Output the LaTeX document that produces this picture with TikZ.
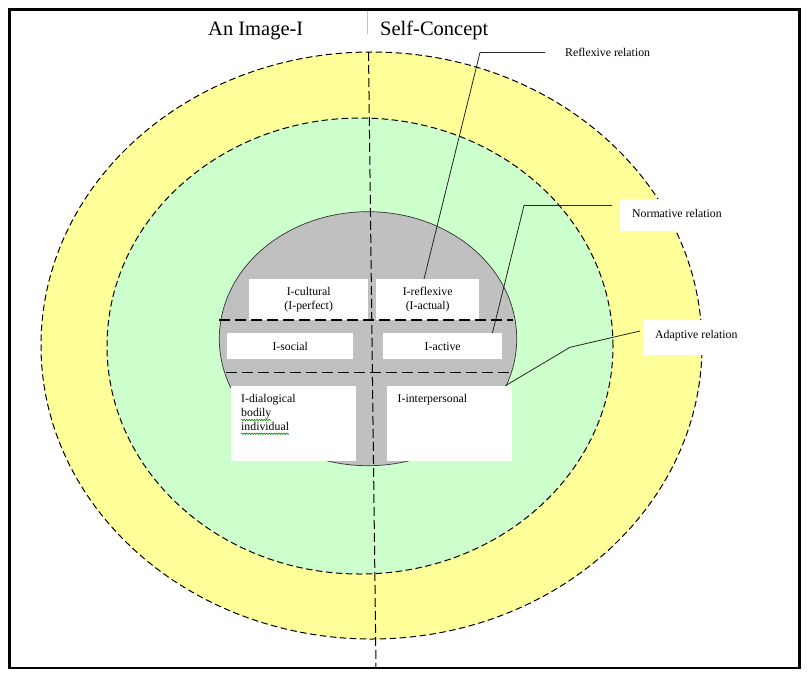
\documentclass[tikz,border=0pt]{standalone}
\usepackage{fontspec}
\setmainfont{Liberation Serif}
\usetikzlibrary{decorations.pathmorphing}
\definecolor{ylw}{HTML}{FFFF99}
\definecolor{grn}{HTML}{CCFFCC}
\definecolor{gry}{HTML}{C0C0C0}
\begin{document}
\begin{tikzpicture}[x=1pt,y=-1pt,
 ring/.style={draw=black, line width=1pt, dash pattern=on 6.5pt off 3.5pt},
 wbox/.style={fill=white, draw=none, inner sep=0pt, anchor=north west, align=center,
   font=\fontsize{11.8}{13.3}\selectfont},
 lbl/.style={font=\fontsize{11.8}{13.7}\selectfont, inner sep=0pt},
 ttl/.style={font=\fontsize{20.5}{24}\selectfont, inner sep=0pt, anchor=base west},
 rel/.style={draw=black!85, line width=0.8pt},
 sepline/.style={line width=1.5pt, dash pattern=on 11pt off 5pt},
 vline/.style={line width=1pt, dash pattern=on 9pt off 4pt},
 squig/.style={draw=green!55!black, line width=0.6pt, decorate,
   decoration={snake, segment length=2.5pt, amplitude=0.7pt}},
]
\useasboundingbox (0,0) rectangle (810,677);
\fill[white] (0,0) rectangle (810,677);
\draw[line width=2.2pt] (9.5,9.5) rectangle (799.5,668);
\draw[gray!45, line width=0.8pt] (367,11) -- (367,34);

% titles
\node[ttl] (t1) at (208,36) {An Image-I};
\node[ttl] (t2) at (380,36) {Self-Concept};

% rings
\draw[ring, fill=ylw] (371.5,345.5) ellipse [x radius=330.5pt, y radius=293.5pt];
\draw[ring, fill=grn] (360,346) ellipse [x radius=253pt, y radius=228pt];
\draw[fill=gry, draw=black!80, line width=0.7pt] (368,338.7) ellipse [x radius=148.7pt, y radius=127pt];

% vertical divider
\coordinate (vt) at (368.5,52);
\coordinate (vb) at (376,668);
\draw[vline] (vt) -- (vb);

% boxes
\node[wbox, minimum width=119pt, minimum height=41pt] (cult) at (249,279) {I-cultural\\(I-perfect)};
\node[wbox, minimum width=103pt, minimum height=41pt] (refl) at (376,279) {I-reflexive\\(I-actual)};
\node[wbox, minimum width=126pt, minimum height=26pt] (soc) at (227,333) {I-social};
\node[wbox, minimum width=119pt, minimum height=26pt] (act) at (383,333) {I-active};
\node[wbox, minimum width=125pt, minimum height=75pt] (dial) at (231,385.7) {};
\node[wbox, minimum width=125pt, minimum height=75pt] (inter) at (387,385.7) {};
\node[lbl, anchor=north west, align=left] (dialt) at (241,394.5) {I-dialogical\\bodily\\individual};
\node[lbl, anchor=north west] (intert) at (397.5,394.5) {I-interpersonal};
\draw[squig] (241,420) -- (271,420);
\draw[squig] (241,433.7) -- (289,433.7);

% horizontal dividers
\coordinate (h1a) at (219,320);
\coordinate (h1b) at (513,320);
\coordinate (h2a) at (226,372.7);
\coordinate (h2b) at (512,372.7);
\draw[sepline] (h1a) -- (h1b);
\draw[sepline] (h2a) -- (h2b);

% relation labels
\node[lbl, anchor=base west] (reflab) at (565,56.5) {Reflexive relation};
\coordinate (rc) at (480,52.5);
\coordinate (re) at (545,52.5);
\draw[rel] (re) -- (rc) -- ([xshift=48pt]refl.north west);

\coordinate (nc) at (524,205.5);
\coordinate (ne) at (612,205.5);
\draw[rel] (ne) -- (nc) -- ([xshift=-10pt]act.north east);
\node[fill=white, inner sep=0pt, anchor=north west, minimum width=120pt, minimum height=32pt] (normbox) at (620,199) {};
\node[lbl, anchor=base west] (normlab) at (632,217.5) {Normative relation};

\coordinate (ae) at (640,331);
\coordinate (ac) at (570,347.3);
\draw[rel] (ae) -- (ac) -- ([xshift=-7pt]inter.north east);
\node[fill=white, inner sep=0pt, anchor=north west, minimum width=105pt, minimum height=35pt] (adbox) at (643,320) {};
\node[lbl, anchor=base west] (adlab) at (655,338.3) {Adaptive relation};
\end{tikzpicture}
\end{document}
